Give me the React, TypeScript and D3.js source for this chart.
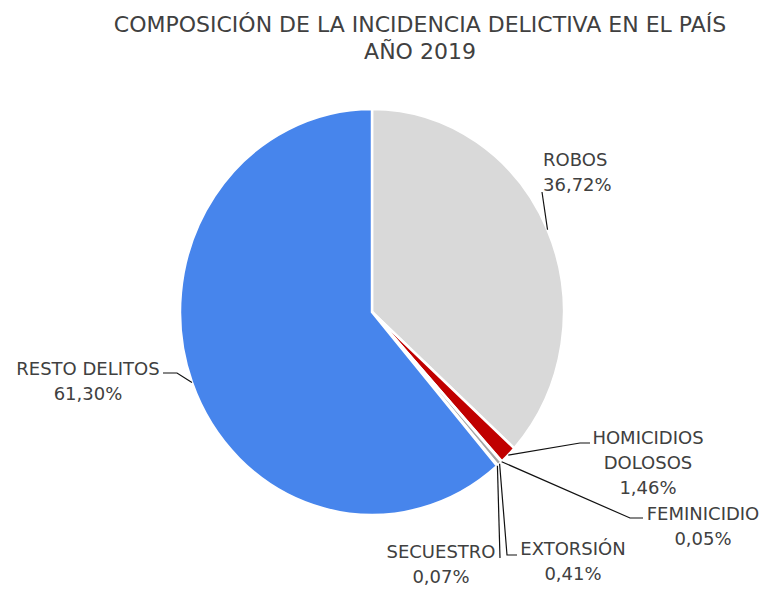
import React from 'react'
import * as d3 from 'd3'

// categories and shares (%), clockwise from 12 o'clock
const categories = ['ROBOS', 'HOMICIDIOS DOLOSOS', 'FEMINICIDIO', 'EXTORSIÓN', 'SECUESTRO', 'RESTO DELITOS']
const shares = [36.72, 1.46, 0.05, 0.41, 0.07, 61.3]
const shareLabels = ['36,72%', '1,46%', '0,05%', '0,41%', '0,07%', '61,30%']
const labelLines = [['ROBOS'], ['HOMICIDIOS', 'DOLOSOS'], ['FEMINICIDIO'], ['EXTORSIÓN'], ['SECUESTRO'], ['RESTO DELITOS']]
const colors = ['#d9d9d9', '#c00000', '#7f7f7f', '#a5a5a5', '#5b9bd5', '#4785ec']
const titleLines = ['COMPOSICIÓN DE LA INCIDENCIA DELICTIVA EN EL PAÍS', 'AÑO 2019']

// layout of labels: text anchor point, leader bends
const labelLayout: { x: number; y: number; anchor: string; bends: [number, number][] }[] = [
    { x: 543, y: 166, anchor: 'start', bends: [[542, 192]] },
    { x: 648, y: 444, anchor: 'middle', bends: [[580, 443], [590, 443]] },
    { x: 703, y: 520, anchor: 'middle', bends: [[630, 518], [643, 518]] },
    { x: 573, y: 555, anchor: 'middle', bends: [[507, 555], [517, 555]] },
    { x: 441, y: 558, anchor: 'middle', bends: [[500, 558]] },
    { x: 88, y: 375, anchor: 'middle', bends: [[177, 373], [163, 373]] }
]

const W = 763
const H = 589
const cx = 372
const cy = 312
const r = 192
const sy = 203 / 192
const font = '"DejaVu Sans", sans-serif'
const textColor = '#404040'

const App: React.FC = () => {
    const data = categories.map((c, i) => ({ name: c, value: shares[i], i }))
    const pie = d3.pie<any>().sort(null).value((d) => d.value).startAngle(0).endAngle(2 * Math.PI)
    const arcs = pie(data)
    const arc = d3.arc<any>().innerRadius(0).outerRadius(r)
    const edge = d3.arc<any>().innerRadius(r).outerRadius(r)

    return (
        <svg width={W} height={H} style={{ position: 'absolute', left: 0, top: 0 }}>
            <rect width={W} height={H} fill='#ffffff' />
            {titleLines.map((t, i) => (
                <text
                    key={t}
                    x={420}
                    y={32 + i * 27}
                    textAnchor='middle'
                    fontFamily={font}
                    fontSize={22}
                    fill={textColor}
                >
                    {t}
                </text>
            ))}
            <g transform={`translate(${cx},${cy}) scale(1,${sy})`}>
                {arcs.map((a) => (
                    <path
                        key={a.data.name}
                        d={arc(a) as string}
                        fill={colors[a.data.i]}
                        stroke='#ffffff'
                        strokeWidth={2.5}
                        vectorEffect='non-scaling-stroke'
                    />
                ))}
            </g>
            <g className='leaders'>
                {arcs.map((a) => {
                    const [ex, ey] = edge.centroid(a)
                    const pts: [number, number][] = [[cx + ex, cy + ey * sy], ...labelLayout[a.data.i].bends]
                    return (
                        <path
                            key={a.data.name}
                            d={d3.line()(pts) as string}
                            fill='none'
                            stroke='#111111'
                            strokeWidth={1.2}
                        />
                    )
                })}
            </g>
            <g className='labels'>
                {arcs.map((a) => {
                    const L = labelLayout[a.data.i]
                    const lines = [...labelLines[a.data.i], shareLabels[a.data.i]]
                    return (
                        <text
                            key={a.data.name}
                            x={L.x}
                            y={L.y}
                            textAnchor={L.anchor}
                            fontFamily={font}
                            fontSize={18}
                            fill={textColor}
                        >
                            {lines.map((t, j) => (
                                <tspan key={j} x={L.x} dy={j === 0 ? 0 : 25}>
                                    {t}
                                </tspan>
                            ))}
                        </text>
                    )
                })}
            </g>
        </svg>
    )
}

export default App
